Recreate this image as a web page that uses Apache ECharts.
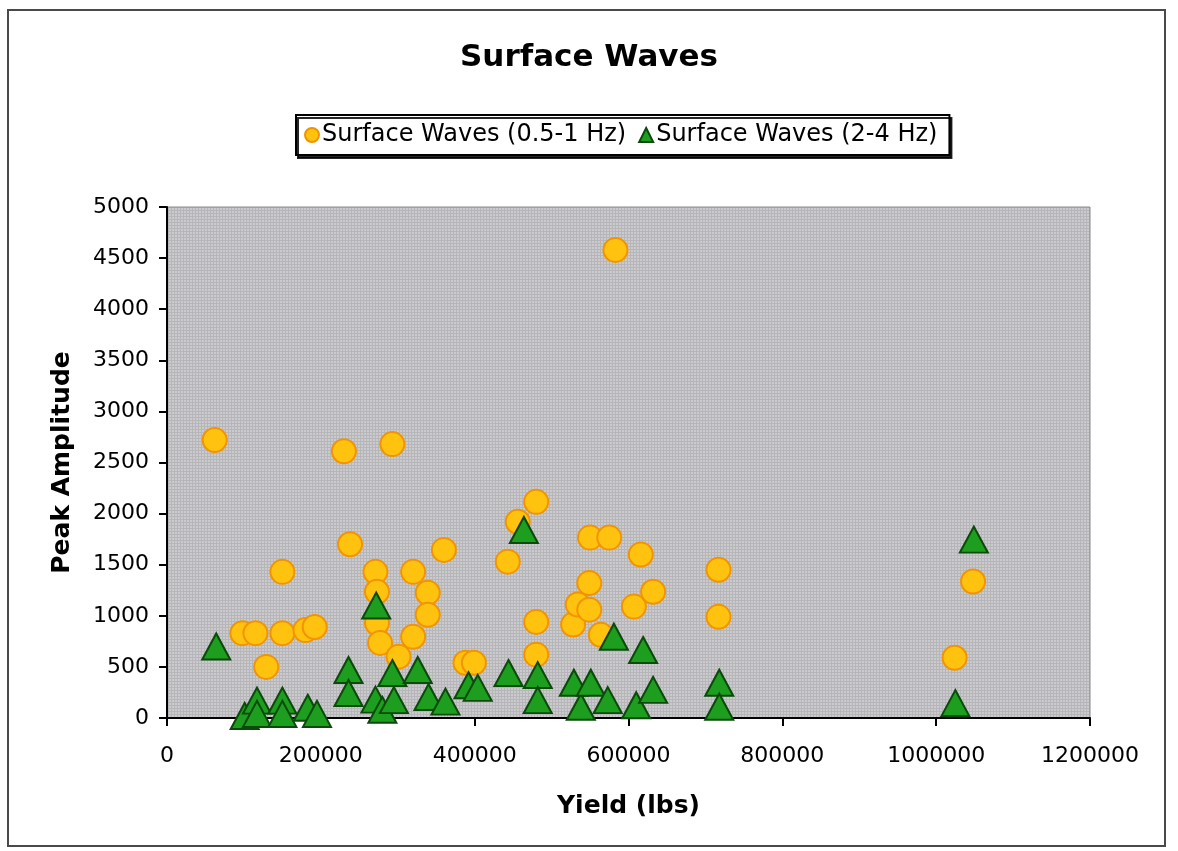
<!DOCTYPE html>
<html>
<head>
<meta charset="utf-8">
<title>Surface Waves</title>
<script src="https://cdn.jsdelivr.net/npm/echarts@6/dist/echarts.min.js"></script>
<style>
  html, body { margin: 0; padding: 0; background: #ffffff; }
  #chart { width: 1178px; height: 851px; }
</style>
</head>
<body>
<div id="chart"></div>
<script>
// Yield (lbs) and peak amplitude for the 0.5-1 Hz surface waves
const yieldLow = [62000, 98000, 115000, 129000, 150000, 150000, 180000, 192000, 230000, 238000,
  271000, 273000, 273000, 277000, 293000, 301000, 320000, 320000, 339000, 339000,
  360000, 388000, 399000, 443000, 456000, 480000, 480000, 480000, 528000, 534000,
  550000, 549000, 549000, 564000, 575000, 583000, 607000, 616000, 632000, 717000,
  717000, 1024000, 1048000];
const ampLow = [2720, 830, 830, 500, 1430, 830, 860, 890, 2610, 1700,
  1430, 1235, 930, 735, 2680, 600, 1430, 795, 1225, 1010,
  1645, 540, 540, 1530, 1920, 2115, 940, 620, 915, 1110,
  1765, 1320, 1060, 815, 1765, 4580, 1090, 1600, 1235, 1450,
  990, 590, 1335];

// Yield (lbs) and peak amplitude for the 2-4 Hz surface waves
const yieldHigh = [64000, 101000, 117000, 117000, 150000, 150000, 183000, 195000, 236000, 236000,
  272000, 271000, 280000, 293000, 295000, 326000, 340000, 362000, 392000, 404000,
  444000, 464000, 482000, 482000, 529000, 538000, 551000, 573000, 581000, 610000,
  619000, 632000, 718000, 718000, 1025000, 1049000];
const ampHigh = [700, 20, 170, 40, 170, 40, 100, 40, 470, 245,
  1100, 180, 80, 440, 175, 470, 205, 160, 320, 295,
  440, 1840, 420, 175, 345, 110, 345, 175, 795, 125,
  665, 275, 345, 110, 145, 1745];

const seriesNames = ['Surface Waves (0.5-1 Hz)', 'Surface Waves (2-4 Hz)'];

const pairs = (xs, ys) => xs.map((x, i) => [x, ys[i]]);

// fine hatched grey fill for the plotting area
function plotPattern() {
  const c = document.createElement('canvas');
  c.width = 3; c.height = 3;
  const g = c.getContext('2d');
  g.fillStyle = '#cbcbcf';
  g.fillRect(0, 0, 3, 3);
  g.fillStyle = '#b6b6b8';
  g.fillRect(0, 0, 3, 1);
  g.fillRect(0, 0, 1, 3);
  return { image: c, repeat: 'repeat' };
}

const plain = (v) => String(v);

const chart = echarts.init(document.getElementById('chart'), null, { renderer: 'canvas' });
const FONT = 'DejaVu Sans';

chart.setOption({
  backgroundColor: '#ffffff',
  animation: false,
  title: {
    text: 'Surface Waves',
    left: 'center',
    top: 37,
    textStyle: { fontFamily: FONT, fontWeight: 'bold', fontSize: 31, color: '#000' }
  },
  legend: {
    left: 296,
    top: 115,
    padding: [8, 12, 8, 8],
    itemGap: 12,
    itemWidth: 14,
    itemHeight: 14,
    backgroundColor: '#ffffff',
    borderColor: '#000',
    borderWidth: 2,
    shadowColor: 'rgba(0,0,0,0.85)',
    shadowOffsetX: 2,
    shadowOffsetY: 3,
    shadowBlur: 0,
    textStyle: { fontFamily: FONT, fontSize: 24, color: '#000', padding: [0, 0, 0, -2] },
    data: seriesNames
  },
  grid: {
    left: 167,
    right: 88,
    top: 207,
    bottom: 133,
    show: true,
    backgroundColor: plotPattern(),
    borderColor: '#8a8a8a',
    borderWidth: 1
  },
  xAxis: {
    type: 'value',
    min: 0,
    max: 1200000,
    interval: 200000,
    name: 'Yield (lbs)',
    nameLocation: 'middle',
    nameGap: 76,
    nameTextStyle: { fontFamily: FONT, fontWeight: 'bold', fontSize: 25, color: '#000' },
    axisLine: { show: true, lineStyle: { color: '#000', width: 2 } },
    axisTick: { show: true, length: 8, lineStyle: { color: '#000', width: 2 } },
    axisLabel: { fontFamily: FONT, fontSize: 22, color: '#000', margin: 27, formatter: plain },
    splitLine: { show: false }
  },
  yAxis: {
    type: 'value',
    min: 0,
    max: 5000,
    interval: 500,
    name: 'Peak Amplitude',
    nameLocation: 'middle',
    nameRotate: 90,
    nameGap: 92,
    nameTextStyle: { fontFamily: FONT, fontWeight: 'bold', fontSize: 25, color: '#000' },
    axisLine: { show: true, lineStyle: { color: '#000', width: 2 } },
    axisTick: { show: true, length: 8, lineStyle: { color: '#000', width: 2 } },
    axisLabel: { fontFamily: FONT, fontSize: 22, color: '#000', margin: 18, formatter: plain },
    splitLine: { show: false }
  },
  series: [
    {
      name: seriesNames[0],
      type: 'scatter',
      symbol: 'circle',
      symbolSize: 24,
      itemStyle: { color: '#ffc20e', borderColor: '#f29400', borderWidth: 2, opacity: 1 },
      data: pairs(yieldLow, ampLow)
    },
    {
      name: seriesNames[1],
      type: 'scatter',
      symbol: 'triangle',
      symbolSize: [28, 26],
      itemStyle: { color: '#1e9e1e', borderColor: '#0b4a0b', borderWidth: 2, opacity: 1 },
      data: pairs(yieldHigh, ampHigh)
    }
  ],
  graphic: [
    {
      type: 'rect',
      silent: true,
      shape: { x: 8, y: 10, width: 1157, height: 836 },
      style: { fill: 'none', stroke: '#4a4a4a', lineWidth: 2 }
    }
  ]
});
</script>
</body>
</html>
